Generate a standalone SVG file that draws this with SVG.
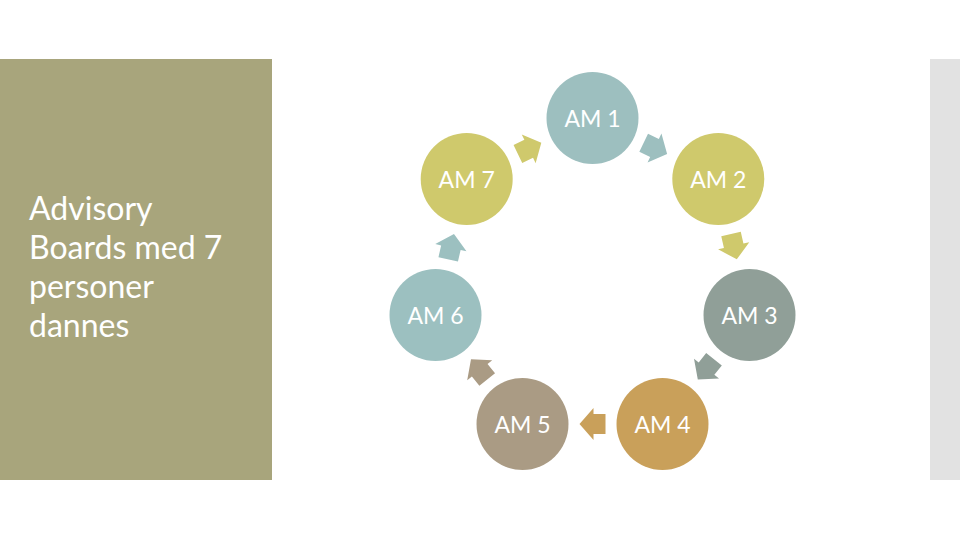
<svg xmlns="http://www.w3.org/2000/svg" width="960" height="540" viewBox="0 0 960 540">
<style>
.lbl{font-family:Lato,"Open Sans","Liberation Sans",sans-serif;font-size:23px;fill:#ffffff;text-anchor:middle;dominant-baseline:central}
.side{font-family:Lato,"Open Sans","Liberation Sans",sans-serif;font-size:32px;fill:#ffffff}
</style>
<defs>
<polygon id="arr" points="-13,-10 -1,-10 -1,-16 13,0 -1,16 -1,10 -13,10"/>
</defs>
<rect width="960" height="540" fill="#ffffff"/>
<rect x="0" y="59" width="272" height="421" fill="#a8a57c"/>
<rect x="930" y="59" width="30" height="421" fill="#e2e2e2"/>
<g id="title">
<text class="side" x="29" y="220">Advisory</text>
<text class="side" x="29" y="259">Boards med 7</text>
<text class="side" x="29" y="298">personer</text>
<text class="side" x="29" y="337">dannes</text>
</g>
<g id="connectors">
<use href="#arr" fill="#9dbfbf" transform="translate(655.4,148.4) rotate(25.71)"/>
<use href="#arr" fill="#cfc96c" transform="translate(733.9,246.7) rotate(77.14)"/>
<use href="#arr" fill="#909f98" transform="translate(705.9,369.4) rotate(128.57)"/>
<use href="#arr" fill="#c9a05a" transform="translate(592.5,424) rotate(180)"/>
<use href="#arr" fill="#aa9b84" transform="translate(479.1,369.4) rotate(231.43)"/>
<use href="#arr" fill="#9cc0c0" transform="translate(451.1,246.7) rotate(282.86)"/>
<use href="#arr" fill="#cfc96c" transform="translate(529.6,148.4) rotate(334.29)"/>
</g>
<g id="am1"><circle cx="592.5" cy="118" r="46" fill="#9dbfbf"/><text class="lbl" x="592.5" y="118">AM 1</text></g>
<g id="am2"><circle cx="718.3" cy="179" r="46" fill="#cfc96c"/><text class="lbl" x="718.3" y="179">AM 2</text></g>
<g id="am3"><circle cx="749.5" cy="315" r="46" fill="#909f98"/><text class="lbl" x="749.5" y="315">AM 3</text></g>
<g id="am4"><circle cx="662.5" cy="424" r="46" fill="#c9a05a"/><text class="lbl" x="662.5" y="424">AM 4</text></g>
<g id="am5"><circle cx="522.5" cy="424" r="46" fill="#aa9b84"/><text class="lbl" x="522.5" y="424">AM 5</text></g>
<g id="am6"><circle cx="435.5" cy="315" r="46" fill="#9cc0c0"/><text class="lbl" x="435.5" y="315">AM 6</text></g>
<g id="am7"><circle cx="466.7" cy="179" r="46" fill="#cfc96c"/><text class="lbl" x="466.7" y="179">AM 7</text></g>
</svg>
